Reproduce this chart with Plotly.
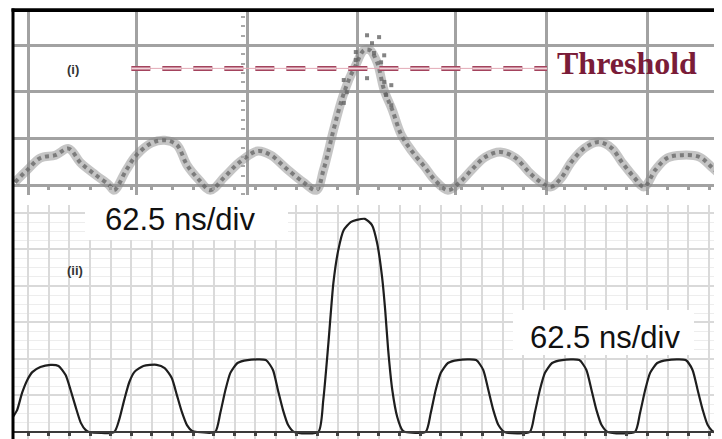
import plotly.graph_objects as go

# ---------------- data (time in ns, amplitude in divisions) ----------------
# (i) upper trace: noisy received signal (band centre)
top_t = [-8.0, -0.6, 7.4, 16.5, 24.5, 31.9, 41.1, 49.0, 52.1, 59.4, 65.6, 74.7, 82.7,
         90.1, 96.2, 103.5, 110.3, 118.9, 128.1, 139.1, 147.0, 156.2, 166.7, 174.6,
         178.9, 185.0, 189.9, 194.2, 198.5, 203.4, 207.1, 211.4, 215.7, 220.6, 226.1,
         232.8, 240.2, 246.3, 254.3, 261.6, 269.6, 276.9, 286.1, 295.3, 303.3, 310.6,
         316.8, 322.9, 329.0, 337.0, 345.6, 353.5, 359.7, 367.0, 373.1, 379.9, 387.2,
         396.4, 406.8, 414.8, 422.8]
top_v = [0.06, 0.32, 0.58, 0.64, 0.78, 0.47, 0.21, 0.0, -0.11, 0.32, 0.64, 0.90, 0.96,
         0.86, 0.43, 0.11, -0.11, 0.17, 0.49, 0.73, 0.64, 0.36, 0.06, -0.11,
         0.32, 1.18, 1.82, 2.25, 2.57, 2.89, 2.89, 2.63, 2.03, 1.61, 1.07,
         0.71, 0.39, 0.11, -0.11, 0.06, 0.36, 0.60, 0.71, 0.58, 0.28, 0.06,
         -0.04, 0.15, 0.49, 0.79, 0.92, 0.79, 0.49, 0.17, -0.04, 0.32, 0.58,
         0.64, 0.60, 0.36, 0.11]
# scattered samples around the central peak
peak_t = [205.3, 212.6, 208.3, 198.5, 209.5, 215.7, 198.5, 213.8, 191.2, 215.7,
          205.3, 220.0, 193.0, 216.9, 191.2, 220.0]
peak_v = [3.21, 3.17, 3.04, 2.85, 2.83, 2.78, 2.68, 2.63, 2.25, 2.21,
          2.29, 2.14, 1.99, 1.93, 1.76, 1.71]

# (ii) lower trace: decoded pulse train
bot_t = [-9.8, -9.2, -6.7, -3.7, -0.6, 2.5, 7.4, 13.5, 18.4, 22.7, 25.7, 28.8, 31.9, 34.9, 36.8,
         52.1, 55.1, 58.2, 61.3, 64.3, 69.8, 77.8, 82.7, 87.0, 90.1, 93.1, 96.2, 99.3, 102.3,
         113.3, 116.4, 119.5, 122.5, 126.8, 132.9, 144.0, 148.3, 151.3, 154.4, 157.5, 161.1,
         175.8, 178.8, 181.9, 184.9, 187.9, 191.1, 195.4, 199.1, 204.0, 208.3, 211.4, 214.4,
         216.3, 218.1, 220.6, 223.6, 226.7, 228.5,
         240.8, 243.9, 246.9, 250.0, 254.3, 260.4, 271.4, 275.7, 278.8, 281.8, 284.9, 288.6,
         303.9, 306.9, 310.0, 313.1, 317.4, 323.5, 333.9, 338.2, 341.3, 344.3, 347.4, 351.1,
         367.6, 370.7, 373.8, 376.8, 381.1, 387.2, 398.3, 402.5, 405.6, 408.7, 411.7, 415.4,
         425.2]
bot_v = [0.35, 0.41, 0.60, 1.07, 1.42, 1.64, 1.78, 1.84, 1.81, 1.56, 1.15, 0.68, 0.25, 0.05, 0.0,
         0.0, 0.33, 0.88, 1.37, 1.64, 1.81, 1.84, 1.75, 1.48, 1.01, 0.55, 0.19, 0.03, 0.0,
         0.0, 0.52, 1.15, 1.62, 1.89, 1.97, 1.97, 1.70, 1.15, 0.60, 0.19, 0.0,
         0.0, 0.88, 2.44, 4.08, 4.99, 5.53, 5.75, 5.81, 5.84, 5.67, 5.18, 4.25,
         3.34, 2.25, 1.15, 0.41, 0.05, 0.0,
         0.0, 0.52, 1.15, 1.62, 1.89, 1.97, 1.97, 1.70, 1.15, 0.60, 0.19, 0.0,
         0.0, 0.52, 1.15, 1.62, 1.89, 1.97, 1.97, 1.70, 1.15, 0.60, 0.19, 0.0,
         0.0, 0.52, 1.15, 1.62, 1.89, 1.97, 1.97, 1.70, 1.15, 0.60, 0.19, 0.0,
         0.0]

threshold_t = [62.5, 314.3]
threshold_v = [2.5, 2.5]

top_grid_t = [0, 65.6, 133.0, 199.7, 258.6, 314.3, 375.0]
time_per_div = 62.5
label_div = "62.5 ns/div"

W, H = 722, 439
OFF = 8  # page margin of the browser
def px(x):
    return (x - OFF) / W
def py(y):
    return 1 - (y - OFF) / H

x_range = [-9.8, 425.2]

fig = go.Figure()

# upper trace: thick fuzzy band
fig.add_trace(go.Scatter(x=top_t, y=top_v, mode="lines", line=dict(color="rgba(140,140,140,0.5)", width=9, shape="spline"),
                         xaxis="x", yaxis="y", hoverinfo="skip"))
fig.add_trace(go.Scatter(x=top_t, y=top_v, mode="lines", line=dict(color="rgba(105,105,105,0.8)", width=4, shape="spline", dash="dot"),
                         xaxis="x", yaxis="y"))
fig.add_trace(go.Scatter(x=peak_t, y=peak_v, mode="markers", marker=dict(color="rgba(100,100,100,0.8)", size=4, symbol="square"),
                         xaxis="x", yaxis="y"))
# threshold (outlined dashes)
fig.add_trace(go.Scatter(x=threshold_t, y=threshold_v, mode="lines", line=dict(color="#e3a9b6", width=1),
                         xaxis="x", yaxis="y"))
fig.add_trace(go.Scatter(x=threshold_t, y=threshold_v, mode="lines", line=dict(color="#a3435d", width=5, dash="19px,12px"),
                         xaxis="x", yaxis="y"))
fig.add_trace(go.Scatter(x=threshold_t, y=threshold_v, mode="lines", line=dict(color="#f1d3da", width=2, dash="19px,12px"),
                         xaxis="x", yaxis="y"))

# lower trace
fig.add_trace(go.Scatter(x=bot_t, y=bot_v, mode="lines", line=dict(color="#1e1e1e", width=2.2, shape="spline", smoothing=0.6),
                         xaxis="x2", yaxis="y2"))

top_dom = [py(195), py(11)]
bot_dom = [0, py(205)]

fig.update_layout(
    width=W, height=H, margin=dict(l=0, r=0, t=0, b=0),
    paper_bgcolor="white", plot_bgcolor="white", showlegend=False,
    xaxis=dict(domain=[px(12), 1], range=x_range, anchor="free", position=py(185),
               tickmode="array", tickvals=top_grid_t, showgrid=True, gridcolor="#a2a2a2", gridwidth=3,
               showticklabels=False, ticks="", zeroline=False, showline=False,
               minor=dict(dtick=time_per_div / 5, tick0=0, ticks="outside", ticklen=4, tickwidth=3,
                          tickcolor="#a0a0a0", showgrid=False)),
    # frame line along the top of the picture
    xaxis3=dict(domain=[px(11), 1], range=x_range, overlaying="x", side="top", anchor="free",
                position=py(10), showline=True, linecolor="#000000", linewidth=3,
                showgrid=False, showticklabels=False, ticks="", zeroline=False),
    yaxis=dict(domain=top_dom, range=[-0.214, 3.73], anchor="free", position=px(245),
               dtick=1, tick0=0, showgrid=True, gridcolor="#a2a2a2", gridwidth=3,
               showticklabels=False, ticks="", zeroline=False, showline=False,
               minor=dict(dtick=0.2, tick0=0, ticks="outside", ticklen=4, tickwidth=2,
                          tickcolor="#a8a8a8", showgrid=False)),
    xaxis2=dict(domain=[px(12), 1], range=x_range, anchor="free", position=py(432),
                dtick=time_per_div / 5, tick0=0, showgrid=True, gridcolor="#dadada", gridwidth=1.5,
                showticklabels=False, ticks="outside", ticklen=3, tickwidth=3, tickcolor="#444",
                zeroline=False, showline=True, linecolor="#3a3a3a", linewidth=1.5),
    yaxis2=dict(domain=bot_dom, range=[-0.192 - 8 / 36.5, 6.219], anchor="x2",
                dtick=1, tick0=0, showgrid=True, gridcolor="#d9d9d9", gridwidth=1.5,
                showticklabels=False, ticks="", zeroline=False, showline=False,
                minor=dict(dtick=0.25, tick0=0, showgrid=True, gridcolor="#ededed", gridwidth=1)),
)

# invisible trace to attach the frame axis
fig.add_trace(go.Scatter(x=[], y=[], xaxis="x3", yaxis="y", showlegend=False))

shapes = [
    dict(type="rect", xref="paper", yref="paper", x0=px(85), x1=px(288), y0=py(240), y1=py(200),
         fillcolor="white", line=dict(width=0), layer="above"),
    dict(type="rect", xref="paper", yref="paper", x0=px(513), x1=px(694), y0=py(355), y1=py(310),
         fillcolor="white", line=dict(width=0), layer="above"),
    dict(type="line", xref="paper", yref="paper", x0=px(11.5), x1=px(730), y0=py(10), y1=py(10),
         line=dict(color="#000000", width=3.5), layer="above"),
    dict(type="line", xref="paper", yref="paper", x0=px(13), x1=px(13), y0=py(8.5), y1=py(447),
         line=dict(color="#000000", width=3), layer="above"),
]
fig.update_layout(shapes=shapes)

annos = [
    dict(text="<b>(i)</b>", x=px(73), y=py(70), font=dict(family="Arial", size=13, color="#333")),
    dict(text="<b>(ii)</b>", x=px(75), y=py(270), font=dict(family="Arial", size=13, color="#333")),
    dict(text=label_div, x=px(180), y=py(219), font=dict(family="Liberation Sans, Arial", size=31, color="#111")),
    dict(text=label_div, x=px(605), y=py(337), font=dict(family="Liberation Sans, Arial", size=31, color="#111")),
    dict(text="<b>Threshold</b>", x=px(627), y=py(63), font=dict(family="Liberation Serif, Times New Roman", size=32, color="#7a1c38")),
]
for a in annos:
    a.update(xref="paper", yref="paper", showarrow=False, xanchor="center", yanchor="middle")
fig.update_layout(annotations=annos)

fig.write_html("out.html")
